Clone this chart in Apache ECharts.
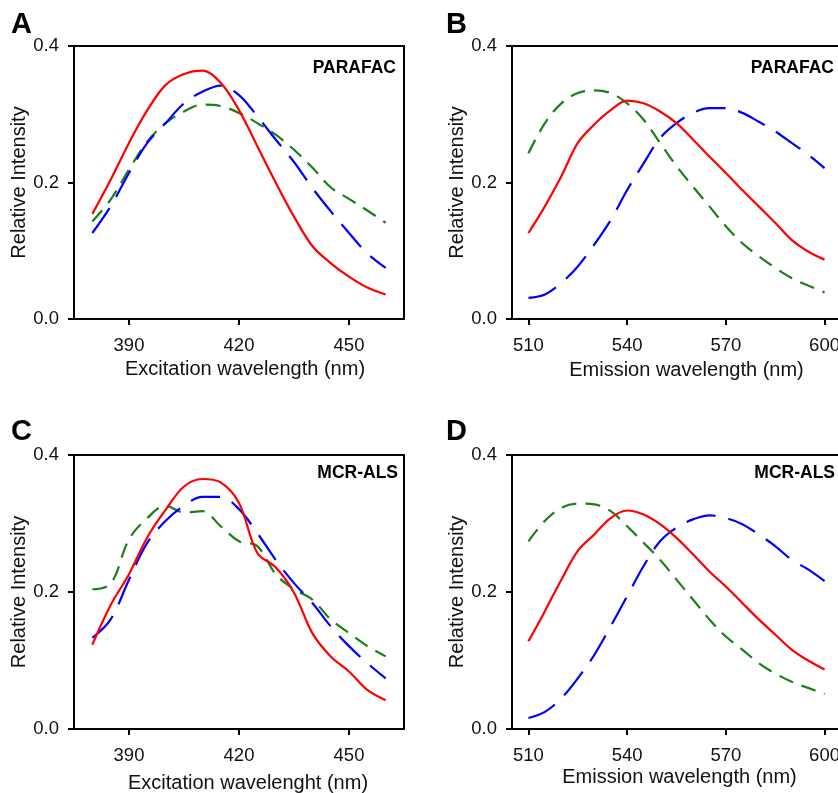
<!DOCTYPE html>
<html>
<head>
<meta charset="utf-8">
<script src="https://cdn.jsdelivr.net/npm/echarts@6/dist/echarts.min.js"></script>
<style>
  html, body { margin: 0; padding: 0; background: #fff; }
  #chart { width: 838px; height: 793px; }
</style>
</head>
<body>
<div id="chart"></div>
<script>
// wavelengths (nm)
const excWl = [380, 385, 390, 395, 400, 405, 410, 415, 420, 425, 430, 435, 440, 445, 450, 455, 460]
const emWl = [510, 515, 520, 525, 530, 535, 540, 545, 550, 555, 560, 565, 570, 575, 580, 585, 590, 595, 600]

// A - PARAFAC excitation
const aRed = [0.154, 0.204, 0.258, 0.306, 0.343, 0.359, 0.364, 0.346, 0.306, 0.253, 0.200, 0.150, 0.107, 0.082, 0.062, 0.046, 0.036]
const aBlue = [0.126, 0.165, 0.214, 0.258, 0.287, 0.316, 0.333, 0.342, 0.328, 0.297, 0.263, 0.230, 0.192, 0.158, 0.126, 0.096, 0.075]
const aGreen = [0.143, 0.175, 0.219, 0.260, 0.287, 0.304, 0.314, 0.312, 0.302, 0.287, 0.270, 0.248, 0.222, 0.193, 0.176, 0.159, 0.141]

// B - PARAFAC emission
const bRed = [0.126, 0.165, 0.209, 0.258, 0.285, 0.306, 0.320, 0.316, 0.304, 0.287, 0.263, 0.238, 0.214, 0.189, 0.165, 0.141, 0.116, 0.099, 0.087]
const bBlue = [0.031, 0.036, 0.053, 0.077, 0.109, 0.145, 0.189, 0.228, 0.265, 0.287, 0.302, 0.309, 0.309, 0.302, 0.289, 0.275, 0.258, 0.241, 0.221]
const bGreen = [0.243, 0.287, 0.316, 0.331, 0.335, 0.331, 0.316, 0.292, 0.258, 0.224, 0.194, 0.165, 0.136, 0.111, 0.092, 0.075, 0.060, 0.049, 0.039]

// C - MCR-ALS excitation
const cRed = [0.123, 0.181, 0.226, 0.280, 0.320, 0.354, 0.365, 0.360, 0.330, 0.257, 0.236, 0.199, 0.140, 0.106, 0.084, 0.057, 0.042]
const cBlue = [0.133, 0.160, 0.218, 0.272, 0.304, 0.326, 0.339, 0.339, 0.321, 0.286, 0.247, 0.213, 0.184, 0.150, 0.121, 0.096, 0.074]
const cGreen = [0.204, 0.212, 0.277, 0.308, 0.326, 0.316, 0.318, 0.296, 0.274, 0.267, 0.226, 0.204, 0.189, 0.160, 0.140, 0.121, 0.106]

// D - MCR-ALS emission
const dRed = [0.128, 0.172, 0.218, 0.260, 0.284, 0.308, 0.319, 0.313, 0.299, 0.279, 0.255, 0.230, 0.208, 0.184, 0.160, 0.138, 0.116, 0.100, 0.087]
const dBlue = [0.016, 0.025, 0.045, 0.074, 0.108, 0.150, 0.194, 0.238, 0.274, 0.294, 0.306, 0.312, 0.308, 0.299, 0.284, 0.267, 0.247, 0.233, 0.216]
const dGreen = [0.274, 0.304, 0.323, 0.329, 0.328, 0.318, 0.296, 0.272, 0.247, 0.218, 0.189, 0.160, 0.135, 0.116, 0.096, 0.081, 0.069, 0.060, 0.051]

const excTicks = [390, 420, 450]
const emTicks = [510, 540, 570, 600]

const FONT = 'Liberation Sans, Arial, sans-serif'
const RED = '#ff0000'
const BLUE = '#0000ff'
const GREEN = '#1b7f1b'

const chart = echarts.init(document.getElementById('chart'), null, { renderer: 'canvas' })

const pair = (xs, ys) => xs.map((x, i) => [x, ys[i]])

// B and D run past the right edge of the picture, like the reference
const grids = [
  { left: 74, top: 46, width: 330, height: 273 },
  { left: 512, top: 46, width: 329, height: 273 },
  { left: 74, top: 455, width: 330, height: 274 },
  { left: 512, top: 455, width: 329, height: 274 }
].map(g => ({ ...g, show: true, borderColor: '#000', borderWidth: 2, containLabel: false, outerBoundsMode: 'none' }))

// shift: the titles sit a little right of the axis middle in the original
const xDefs = [
  { min: 375, max: 465, ticks: excTicks, name: 'Excitation wavelength (nm)', gap: 40, shift: 12 },
  { min: 505, max: 605, ticks: emTicks, name: 'Emission wavelength (nm)', gap: 41, shift: 20 },
  { min: 375, max: 465, ticks: excTicks, name: 'Excitation wavelenght (nm)', gap: 44, shift: 18 },
  { min: 505, max: 605, ticks: emTicks, name: 'Emission wavelength (nm)', gap: 38, shift: 6 }
]

const xAxis = xDefs.map((d, i) => ({
  type: 'value',
  gridIndex: i,
  min: d.min,
  max: d.max,
  name: d.name,
  nameLocation: 'middle',
  nameGap: d.gap,
  nameTextStyle: { fontFamily: FONT, fontSize: 20, color: '#111', padding: [0, 0, 0, d.shift] },
  axisLine: { lineStyle: { color: '#000', width: 2 } },
  axisTick: { length: 6, customValues: d.ticks, lineStyle: { color: '#000', width: 2 } },
  axisLabel: { customValues: d.ticks, margin: 17, fontFamily: FONT, fontSize: 18.5, color: '#111' },
  splitLine: { show: false }
}))

const yAxis = [0, 1, 2, 3].map(i => ({
  type: 'value',
  gridIndex: i,
  min: 0,
  max: 0.4,
  interval: 0.2,
  name: 'Relative Intensity',
  nameLocation: 'middle',
  nameGap: 44,
  nameTextStyle: { fontFamily: FONT, fontSize: 20, color: '#111' },
  axisLine: { lineStyle: { color: '#000', width: 2 } },
  axisTick: { length: 6, lineStyle: { color: '#000', width: 2 } },
  axisLabel: { margin: 15, fontFamily: FONT, fontSize: 18.5, color: '#111', formatter: v => v.toFixed(1) },
  splitLine: { show: false }
}))

const curve = (idx, xs, ys, color, dash) => ({
  type: 'line',
  xAxisIndex: idx,
  yAxisIndex: idx,
  data: pair(xs, ys),
  smooth: 0.35,
  showSymbol: false,
  silent: true,
  lineStyle: { color, width: 2.2, type: dash, cap: 'butt' }
})

const LONG = [30, 13]
const SHORT = [15, 9]

const series = [
  curve(0, excWl, aGreen, GREEN, SHORT),
  curve(0, excWl, aBlue, BLUE, LONG),
  curve(0, excWl, aRed, RED, 'solid'),
  curve(1, emWl, bGreen, GREEN, SHORT),
  curve(1, emWl, bBlue, BLUE, LONG),
  curve(1, emWl, bRed, RED, 'solid'),
  curve(2, excWl, cGreen, GREEN, SHORT),
  curve(2, excWl, cBlue, BLUE, LONG),
  curve(2, excWl, cRed, RED, 'solid'),
  curve(3, emWl, dGreen, GREEN, SHORT),
  curve(3, emWl, dBlue, BLUE, LONG),
  curve(3, emWl, dRed, RED, 'solid')
]

// panel letters and method tags
const txt = (x, y, text, size, align) => ({
  type: 'text',
  x, y,
  style: { text, fontFamily: FONT, fontWeight: 'bold', fontSize: size, fill: '#000', align, verticalAlign: 'middle' }
})

const graphic = [
  txt(11, 25, 'A', 29, 'left'),
  txt(446, 25, 'B', 29, 'left'),
  txt(11, 432, 'C', 29, 'left'),
  txt(446, 432, 'D', 29, 'left'),
  txt(396, 68, 'PARAFAC', 17.5, 'right'),
  txt(834, 68, 'PARAFAC', 17.5, 'right'),
  txt(398, 473, 'MCR-ALS', 17.5, 'right'),
  txt(835, 473, 'MCR-ALS', 17.5, 'right')
]

chart.setOption({
  backgroundColor: '#fff',
  animation: false,
  grid: grids,
  xAxis,
  yAxis,
  series,
  graphic
})
</script>
</body>
</html>
